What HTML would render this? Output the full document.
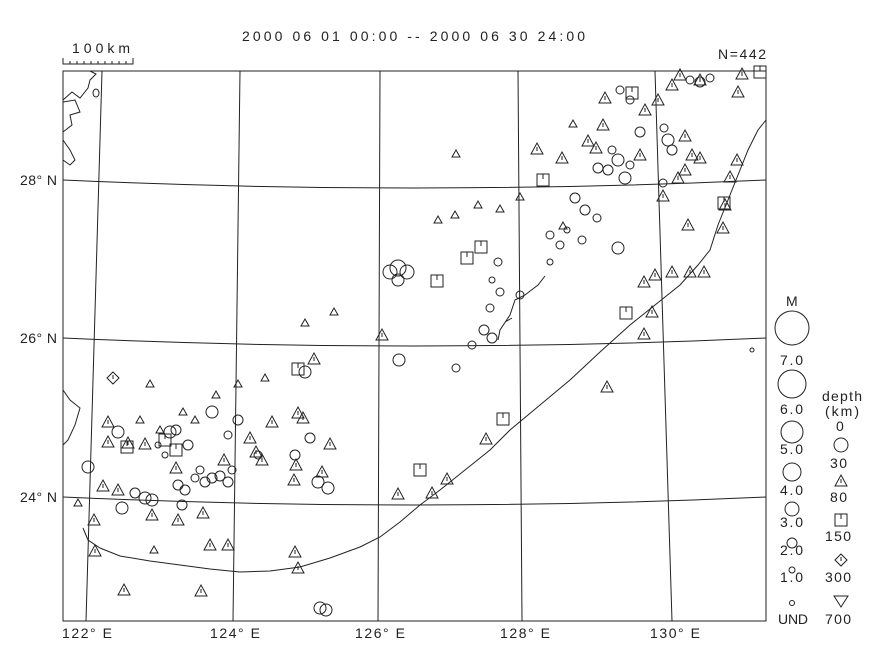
<!DOCTYPE html>
<html><head><meta charset="utf-8"><style>
body{margin:0;background:#fff;}
svg{display:block;font-family:"Liberation Sans",sans-serif;}
</style></head><body>
<svg width="888" height="672" viewBox="0 0 888 672" xmlns="http://www.w3.org/2000/svg">
<defs>
<g id="t"><path d="M0,-6 L6,5 L-6,5 Z" fill="none" stroke="#222" stroke-width="1"/><line x1="0" y1="-2" x2="0" y2="2" stroke="#222"/></g>
<g id="s"><rect x="-6" y="-6" width="12" height="12" fill="none" stroke="#222"/><line x1="0" y1="-6" x2="0" y2="-1" stroke="#222"/></g>
<g id="d"><path d="M0,-6 L6,0 L0,6 L-6,0 Z" fill="none" stroke="#222"/><line x1="0" y1="-3" x2="0" y2="1" stroke="#222"/></g>
<g id="st"><path d="M0,-4 L4,3 L-4,3 Z" fill="none" stroke="#222"/></g>
</defs>
<g fill="none" stroke="#222" stroke-width="1">
<rect x="63" y="71" width="703" height="550"/>
<line x1="102" y1="71" x2="86" y2="621"/>
<line x1="240" y1="71" x2="233" y2="621"/>
<line x1="380" y1="71" x2="378" y2="621"/>
<line x1="518" y1="71" x2="522" y2="621"/>
<line x1="655" y1="71" x2="672" y2="621"/>
<path d="M63,180 Q415,196 766,180"/>
<path d="M63,338 Q415,354 766,338"/>
<path d="M63,497 Q415,513 766,497"/>
<path d="M63,58 L63,64 L133,64 L133,58"/>
<path d="M70,64v-3M77,64v-3M84,64v-3M91,64v-3M98,64v-3M105,64v-3M112,64v-3M119,64v-3M126,64v-3"/>
<path d="M766,120 L758,130 L748,150 L740,170 L730,195 L718,225 L710,250 L698,265 L680,285 L655,305 L630,325 L600,352 L570,380 L540,405 L510,430 L490,450 L465,470 L440,490 L420,505 L400,522 L380,537 L360,547 L330,558 L300,567 L270,571 L240,572 L210,569 L180,565 L150,561 L120,556 L100,548 L88,540 L83,528"/>
<path d="M63,100 L72,92 L80,98 L88,88 L90,80 L96,74 L90,71 M63,132 L72,125 L70,115 L80,112 L75,100 L63,102 M63,140 L70,150 L75,160 L70,165 L63,160"/>
<ellipse cx="96" cy="93" rx="3" ry="4"/>
<path d="M63,390 L70,400 L80,408 L75,425 L68,440 L63,445"/>
<path d="M545,276 L538,285 L525,295 L515,300 L510,315 L500,330 L498,340 M505,322 L512,318"/>
<ellipse cx="752" cy="350" rx="2" ry="2"/>
</g>
<g font-size="14" fill="#222">
<text x="242" y="41" textLength="343" lengthAdjust="spacing">2000 06 01 00:00 -- 2000 06 30 24:00</text>
<text x="72" y="53" textLength="58">100km</text>
<text x="718" y="59" textLength="48">N=442</text>
<text x="20" y="185" textLength="37">28° N</text>
<text x="20" y="343" textLength="37">26° N</text>
<text x="20" y="502" textLength="37">24° N</text>
<text x="62" y="638" textLength="50">122° E</text>
<text x="210" y="638" textLength="50">124° E</text>
<text x="355" y="638" textLength="50">126° E</text>
<text x="500" y="638" textLength="50">128° E</text>
<text x="650" y="638" textLength="50">130° E</text>
<text x="786" y="306">M</text>
<text x="780" y="365" textLength="23">7.0</text>
<text x="780" y="414" textLength="23">6.0</text>
<text x="780" y="454" textLength="23">5.0</text>
<text x="780" y="495" textLength="23">4.0</text>
<text x="780" y="527" textLength="23">3.0</text>
<text x="780" y="555" textLength="23">2.0</text>
<text x="780" y="582" textLength="23">1.0</text>
<text x="778" y="624" textLength="30">UND</text>
<text x="822" y="401" textLength="40">depth</text>
<text x="825" y="416" textLength="34">(km)</text>
<text x="836" y="431">0</text>
<text x="830" y="468" textLength="17">30</text>
<text x="830" y="502" textLength="17">80</text>
<text x="825" y="541" textLength="26">150</text>
<text x="825" y="582" textLength="26">300</text>
<text x="825" y="624" textLength="26">700</text>
</g>
<g fill="none" stroke="#222">
<circle cx="792" cy="328" r="17"/>
<circle cx="792" cy="384" r="14"/>
<circle cx="792" cy="432" r="11"/>
<circle cx="792" cy="472" r="9"/>
<circle cx="792" cy="509" r="7"/>
<circle cx="792" cy="543" r="5"/>
<circle cx="792" cy="570" r="3"/>
<circle cx="792" cy="603" r="2.5"/>
<circle cx="841" cy="445" r="7"/>
<use href="#t" x="841" y="481"/>
<use href="#s" x="841" y="520"/>
<use href="#d" x="841" y="560"/>
<path d="M834,596 L848,596 L841,607 Z"/>
<circle cx="618" cy="160" r="6"/><circle cx="608" cy="170" r="5"/><circle cx="625" cy="178" r="6"/><circle cx="598" cy="168" r="5"/>
<circle cx="630" cy="165" r="4"/><circle cx="612" cy="150" r="4"/><circle cx="640" cy="132" r="5"/><circle cx="668" cy="140" r="6"/>
<circle cx="672" cy="150" r="5"/><circle cx="664" cy="128" r="4"/><circle cx="700" cy="82" r="5"/><circle cx="710" cy="78" r="4"/>
<circle cx="690" cy="80" r="4"/><circle cx="575" cy="198" r="5"/><circle cx="585" cy="210" r="5"/><circle cx="597" cy="218" r="4"/>
<circle cx="618" cy="248" r="6"/><circle cx="582" cy="240" r="4"/><circle cx="560" cy="245" r="4"/><circle cx="550" cy="235" r="4"/>
<circle cx="567" cy="230" r="3"/><circle cx="663" cy="183" r="4"/><circle cx="620" cy="90" r="4"/><circle cx="630" cy="100" r="4"/>
<circle cx="390" cy="272" r="7"/><circle cx="398" cy="268" r="8"/><circle cx="407" cy="272" r="7"/><circle cx="398" cy="280" r="6"/>
<circle cx="498" cy="262" r="4"/><circle cx="492" cy="280" r="3"/><circle cx="500" cy="292" r="4"/><circle cx="490" cy="308" r="4"/>
<circle cx="472" cy="345" r="4"/><circle cx="484" cy="330" r="5"/><circle cx="492" cy="338" r="5"/><circle cx="399" cy="360" r="6"/>
<circle cx="456" cy="368" r="4"/><circle cx="520" cy="295" r="4"/><circle cx="550" cy="262" r="3"/>
<circle cx="170" cy="432" r="6"/><circle cx="176" cy="430" r="5"/><circle cx="188" cy="445" r="5"/><circle cx="212" cy="412" r="6"/>
<circle cx="118" cy="432" r="6"/><circle cx="88" cy="467" r="6"/><circle cx="122" cy="508" r="6"/><circle cx="145" cy="498" r="6"/>
<circle cx="152" cy="500" r="6"/><circle cx="135" cy="493" r="5"/><circle cx="178" cy="485" r="5"/><circle cx="185" cy="490" r="5"/>
<circle cx="182" cy="505" r="5"/><circle cx="205" cy="482" r="5"/><circle cx="212" cy="478" r="5"/><circle cx="220" cy="476" r="5"/>
<circle cx="228" cy="482" r="5"/><circle cx="200" cy="470" r="4"/><circle cx="195" cy="478" r="4"/><circle cx="305" cy="372" r="6"/>
<circle cx="295" cy="455" r="5"/><circle cx="310" cy="438" r="5"/><circle cx="318" cy="482" r="6"/><circle cx="328" cy="488" r="6"/>
<circle cx="238" cy="420" r="5"/><circle cx="228" cy="435" r="4"/><circle cx="320" cy="608" r="6"/><circle cx="326" cy="610" r="6"/>
<circle cx="258" cy="455" r="4"/><circle cx="232" cy="470" r="4"/><circle cx="165" cy="455" r="3"/><circle cx="158" cy="445" r="3"/>
</g>
<g>
<use href="#t" x="537" y="149"/><use href="#t" x="562" y="158"/><use href="#t" x="603" y="125"/><use href="#t" x="588" y="141"/>
<use href="#t" x="596" y="148"/><use href="#t" x="685" y="136"/><use href="#t" x="692" y="155"/><use href="#t" x="700" y="158"/>
<use href="#t" x="685" y="170"/><use href="#t" x="678" y="178"/><use href="#t" x="663" y="196"/><use href="#t" x="738" y="92"/>
<use href="#t" x="737" y="160"/><use href="#t" x="742" y="74"/><use href="#t" x="680" y="75"/><use href="#t" x="672" y="85"/>
<use href="#t" x="658" y="100"/><use href="#t" x="645" y="110"/><use href="#t" x="605" y="98"/><use href="#t" x="688" y="225"/>
<use href="#t" x="725" y="205"/><use href="#t" x="723" y="228"/><use href="#t" x="655" y="275"/><use href="#t" x="672" y="272"/>
<use href="#t" x="690" y="272"/><use href="#t" x="704" y="272"/><use href="#t" x="644" y="282"/><use href="#t" x="652" y="312"/>
<use href="#t" x="644" y="334"/><use href="#t" x="607" y="387"/><use href="#t" x="486" y="439"/><use href="#t" x="447" y="479"/>
<use href="#t" x="398" y="494"/><use href="#t" x="382" y="335"/><use href="#t" x="314" y="359"/><use href="#t" x="298" y="413"/>
<use href="#t" x="303" y="418"/><use href="#t" x="330" y="444"/><use href="#t" x="296" y="465"/><use href="#t" x="322" y="472"/>
<use href="#t" x="294" y="480"/><use href="#t" x="262" y="460"/><use href="#t" x="250" y="438"/><use href="#t" x="256" y="452"/>
<use href="#t" x="108" y="422"/><use href="#t" x="108" y="442"/><use href="#t" x="128" y="443"/><use href="#t" x="145" y="444"/>
<use href="#t" x="103" y="486"/><use href="#t" x="118" y="490"/><use href="#t" x="94" y="520"/><use href="#t" x="152" y="515"/>
<use href="#t" x="178" y="520"/><use href="#t" x="203" y="513"/><use href="#t" x="210" y="545"/><use href="#t" x="228" y="545"/>
<use href="#t" x="95" y="551"/><use href="#t" x="124" y="590"/><use href="#t" x="201" y="591"/><use href="#t" x="298" y="568"/>
<use href="#t" x="295" y="552"/><use href="#t" x="224" y="460"/><use href="#t" x="272" y="422"/><use href="#t" x="176" y="468"/>
<use href="#t" x="432" y="493"/><use href="#t" x="730" y="177"/><use href="#t" x="640" y="155"/><use href="#t" x="700" y="80"/>
<use href="#s" x="543" y="180"/><use href="#s" x="467" y="258"/><use href="#s" x="481" y="247"/><use href="#s" x="437" y="281"/>
<use href="#s" x="626" y="313"/><use href="#s" x="503" y="419"/><use href="#s" x="420" y="470"/><use href="#s" x="298" y="369"/>
<use href="#s" x="127" y="447"/><use href="#s" x="176" y="450"/><use href="#s" x="165" y="440"/><use href="#s" x="760" y="72"/>
<use href="#s" x="632" y="93"/><use href="#s" x="724" y="203"/>
<use href="#d" x="113" y="378"/>
<use href="#st" x="456" y="154"/><use href="#st" x="334" y="312"/><use href="#st" x="305" y="323"/><use href="#st" x="150" y="384"/>
<use href="#st" x="265" y="378"/><use href="#st" x="238" y="384"/><use href="#st" x="183" y="412"/><use href="#st" x="195" y="420"/>
<use href="#st" x="154" y="550"/><use href="#st" x="573" y="124"/><use href="#st" x="500" y="209"/><use href="#st" x="520" y="197"/>
<use href="#st" x="438" y="220"/><use href="#st" x="455" y="215"/><use href="#st" x="478" y="205"/><use href="#st" x="563" y="226"/>
<use href="#st" x="78" y="503"/><use href="#st" x="160" y="430"/><use href="#st" x="140" y="420"/><use href="#st" x="216" y="395"/>
</g>
</svg>
</body></html>
